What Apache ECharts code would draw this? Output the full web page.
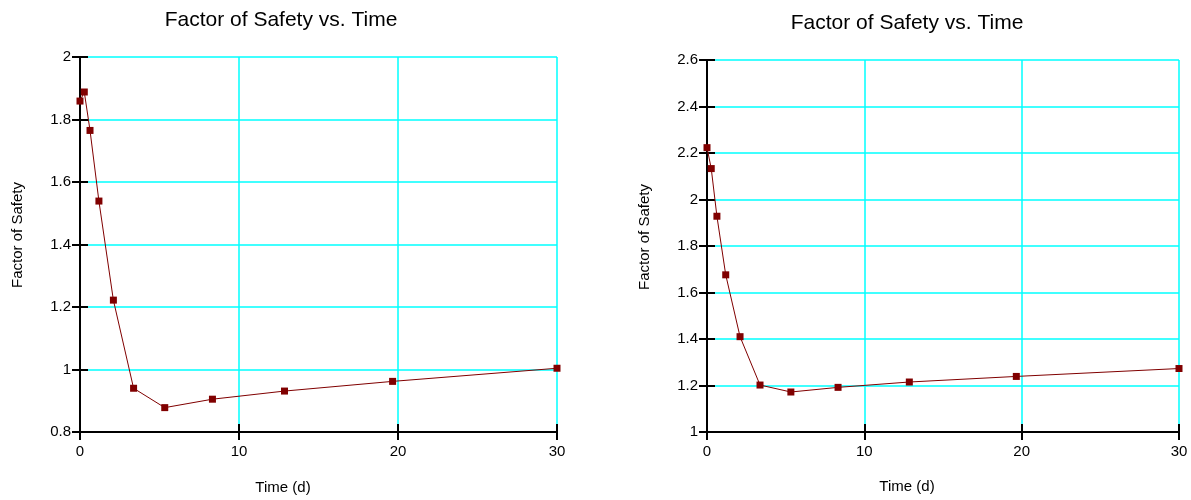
<!DOCTYPE html>
<html>
<head>
<meta charset="utf-8">
<script src="https://cdn.jsdelivr.net/npm/echarts@6/dist/echarts.min.js"></script>
<style>
html,body{margin:0;padding:0;background:#fff;}
#main{width:1191px;height:500px;}
</style>
</head>
<body>
<div id="main"></div>
<script>
var titleText = 'Factor of Safety vs. Time';
var xName = 'Time (d)';
var yName = 'Factor of Safety';
var timeDays = [0, 0.27, 0.63, 1.19, 2.1, 3.37, 5.33, 8.33, 12.86, 19.66, 30];
var fosLeft = [1.859, 1.888, 1.765, 1.539, 1.222, 0.940, 0.878, 0.905, 0.931, 0.962, 1.004];
var fosRight = [2.223, 2.133, 1.928, 1.676, 1.410, 1.202, 1.172, 1.192, 1.215, 1.239, 1.273];
var xTicks = [0, 10, 20, 30];
var yLeftRange = [0.8, 2.0, 0.2];
var yRightRange = [1.0, 2.6, 0.2];

var FONT = '"Liberation Sans", Arial, sans-serif';
var GRIDC = '#00ffff';
var chart = echarts.init(document.getElementById('main'), null, {renderer: 'canvas'});

function pairs(xs, ys) {
  return xs.map(function (x, i) { return [x, ys[i]]; });
}

function xAxisPair(gi) {
  var base = {
    type: 'value', gridIndex: gi, position: 'bottom',
    min: xTicks[0], max: xTicks[xTicks.length - 1], interval: xTicks[1] - xTicks[0]
  };
  return [
    Object.assign({}, base, {
      axisLine: {show: true, onZero: false, lineStyle: {color: '#000', width: 2}},
      axisTick: {show: true, inside: false, length: 8, lineStyle: {color: '#000', width: 2}},
      axisLabel: {show: true, color: '#000', fontSize: 15, fontFamily: FONT, margin: 12},
      splitLine: {show: true, lineStyle: {color: GRIDC, width: 1.5}}
    }),
    Object.assign({}, base, {
      axisLine: {show: false, onZero: false},
      axisTick: {show: true, inside: true, length: 8, lineStyle: {color: '#000', width: 2}},
      axisLabel: {show: false},
      splitLine: {show: false}
    })
  ];
}

function yAxisPair(gi, r) {
  var base = {
    type: 'value', gridIndex: gi, position: 'left',
    min: r[0], max: r[1], interval: r[2]
  };
  return [
    Object.assign({}, base, {
      axisLine: {show: true, onZero: false, lineStyle: {color: '#000', width: 2}},
      axisTick: {show: true, inside: false, length: 8, lineStyle: {color: '#000', width: 2}},
      axisLabel: {show: true, color: '#000', fontSize: 15, fontFamily: FONT, margin: 9},
      splitLine: {show: true, lineStyle: {color: GRIDC, width: 1.5}}
    }),
    Object.assign({}, base, {
      axisLine: {show: false, onZero: false},
      axisTick: {show: true, inside: true, length: 8, lineStyle: {color: '#000', width: 2}},
      axisLabel: {show: false},
      splitLine: {show: false}
    })
  ];
}

function seriesFor(xi, yi, data) {
  return {
    type: 'line', xAxisIndex: xi, yAxisIndex: yi,
    data: data, smooth: false,
    symbol: 'rect', symbolSize: 7,
    itemStyle: {color: '#800000'},
    lineStyle: {color: '#800000', width: 1},
    z: 5, animation: false
  };
}

function txt(x, y, s, size, rot) {
  return {
    type: 'text', x: x, y: y, rotation: rot || 0,
    style: {text: s, fill: '#000', font: size + 'px ' + FONT, align: 'center', verticalAlign: 'middle'},
    z: 10
  };
}

var option = {
  backgroundColor: '#fff',
  animation: false,
  grid: [
    {left: 80, top: 57, width: 477, height: 375, containLabel: false},
    {left: 707, top: 60, width: 472, height: 372, containLabel: false}
  ],
  xAxis: xAxisPair(0).concat(xAxisPair(1)),
  yAxis: yAxisPair(0, yLeftRange).concat(yAxisPair(1, yRightRange)),
  series: [
    seriesFor(0, 0, pairs(timeDays, fosLeft)),
    seriesFor(2, 2, pairs(timeDays, fosRight))
  ],
  graphic: [
    txt(281, 20, titleText, 21),
    txt(907, 23, titleText, 21),
    txt(18, 235, yName, 15, Math.PI / 2),
    txt(645, 237, yName, 15, Math.PI / 2),
    txt(283, 488, xName, 15),
    txt(907, 487, xName, 15)
  ]
};
chart.setOption(option);
</script>
</body>
</html>
